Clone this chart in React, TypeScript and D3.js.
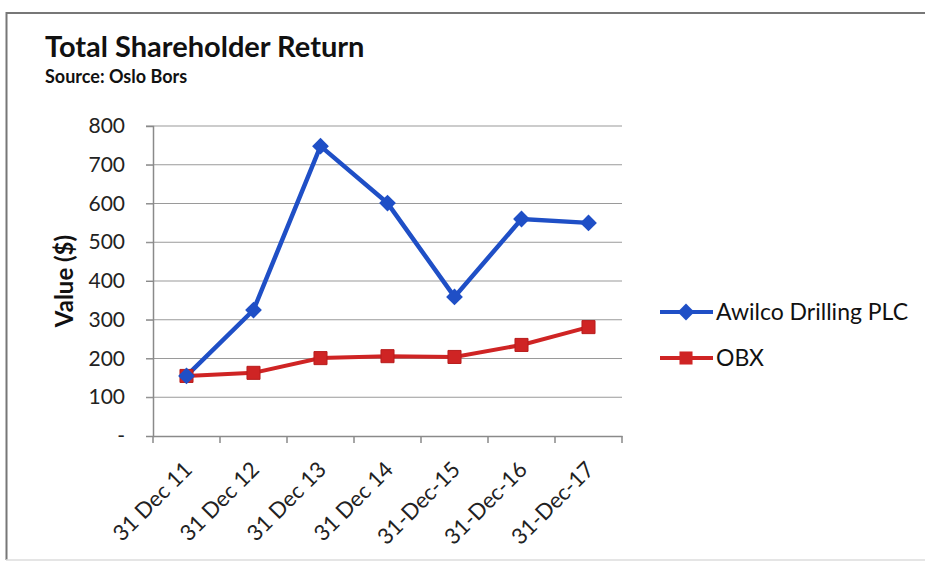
import React, { useEffect, useRef } from "react";
import * as d3 from "d3";

const categories = ["31 Dec 11", "31 Dec 12", "31 Dec 13", "31 Dec 14", "31-Dec-15", "31-Dec-16", "31-Dec-17"];
const awilco = [155, 325, 748, 601, 359, 560, 550];
const obx = [155, 163, 201, 206, 204, 235, 281];
const yTicks = [0, 100, 200, 300, 400, 500, 600, 700, 800];
const seriesNames = ["Awilco Drilling PLC", "OBX"];

const FONT = "Lato, 'Open Sans', sans-serif";

export default function App() {
  const svgRef = useRef<SVGSVGElement | null>(null);

  useEffect(() => {
    const width = 925;
    const height = 562;
    const svg = d3.select(svgRef.current)
      .attr("width", width)
      .attr("height", height);

    // remove old element before rebuild
    svg.selectAll("*").remove();

    svg.append("rect").attr("width", width).attr("height", height).attr("fill", "#fff");

    // outer frame
    svg.append("path")
      .attr("d", `M${width},13 H6.5 V560`)
      .attr("fill", "none")
      .attr("stroke", "#777")
      .attr("stroke-width", 2);
    svg.append("line")
      .attr("x1", 6).attr("x2", width).attr("y1", 560).attr("y2", 560)
      .attr("stroke", "#ddd").attr("stroke-width", 1.5);

    const margin = { left: 153, top: 126, right: 303, bottom: 126 };

    const x = d3.scaleBand()
      .domain(categories)
      .range([margin.left, width - margin.right]);

    const y = d3.scaleLinear()
      .domain([0, 800])
      .range([height - margin.bottom, margin.top]);

    // gridlines
    svg.append("g")
      .selectAll("line")
      .data(yTicks.filter((d) => d > 0))
      .join("line")
      .attr("x1", margin.left - 7)
      .attr("x2", width - margin.right)
      .attr("y1", (d) => y(d))
      .attr("y2", (d) => y(d))
      .attr("stroke", "#9a9a9a")
      .attr("stroke-width", 1.2);

    // y axis
    const yAxis = svg.append("g")
      .attr("transform", `translate(${margin.left},0)`)
      .call(d3.axisLeft(y).tickValues(yTicks).tickSize(7).tickFormat((d) => (d === 0 ? "-" : String(d))));
    yAxis.select(".domain").attr("stroke", "#8a8a8a").attr("stroke-width", 1.5);
    yAxis.selectAll(".tick line").attr("stroke", "#8a8a8a");
    yAxis.selectAll(".tick text")
      .attr("x", -28)
      .attr("font-family", FONT)
      .attr("font-size", 21)
      .attr("fill", "#222");

    // x axis
    const xAxis = svg.append("g")
      .attr("transform", `translate(0,${y(0)})`)
      .call(d3.axisBottom(x).tickSize(0));
    xAxis.select(".domain").attr("stroke", "#8a8a8a").attr("stroke-width", 1.5);
    xAxis.selectAll(".tick text")
      .attr("font-family", FONT)
      .attr("font-size", 22)
      .attr("fill", "#222")
      .attr("text-anchor", "end")
      .attr("dy", null)
      .attr("y", null)
      .attr("transform", "translate(7,35) rotate(-45)");
    // category boundary ticks
    svg.append("g")
      .selectAll("line")
      .data(categories.concat(["end"]))
      .join("line")
      .attr("x1", (d, i) => margin.left + i * x.step())
      .attr("x2", (d, i) => margin.left + i * x.step())
      .attr("y1", y(0))
      .attr("y2", y(0) + 7)
      .attr("stroke", "#8a8a8a")
      .attr("stroke-width", 1.5);

    const cx = (i: number) => (x(categories[i]) as number) + x.bandwidth() / 2;

    const blue = "#1f4fc6";
    const red = "#cf2424";

    const line = d3.line<number>()
      .x((d, i) => cx(i))
      .y((d) => y(d));

    svg.append("path")
      .datum(obx)
      .attr("d", line)
      .attr("fill", "none")
      .attr("stroke", red)
      .attr("stroke-width", 4);
    svg.append("path")
      .datum(awilco)
      .attr("d", line)
      .attr("fill", "none")
      .attr("stroke", blue)
      .attr("stroke-width", 4.5);

    const diamond = d3.symbol().type(d3.symbolDiamond2).size(180);
    const square = d3.symbol().type(d3.symbolSquare).size(170);

    svg.append("g")
      .selectAll("path")
      .data(obx)
      .join("path")
      .attr("d", square)
      .attr("transform", (d, i) => `translate(${cx(i)},${y(d)})`)
      .attr("fill", red)
      .attr("stroke", "#b81c1c")
      .attr("stroke-width", 1);
    svg.append("g")
      .selectAll("path")
      .data(awilco)
      .join("path")
      .attr("d", diamond)
      .attr("transform", (d, i) => `translate(${cx(i)},${y(d)})`)
      .attr("fill", blue);

    // titles
    svg.append("text")
      .attr("x", 45).attr("y", 57)
      .attr("font-family", FONT)
      .attr("font-weight", "bold")
      .attr("font-size", 29)
      .attr("fill", "#111")
      .text("Total Shareholder Return");
    svg.append("text")
      .attr("x", 45).attr("y", 83)
      .attr("font-family", FONT)
      .attr("font-weight", "bold")
      .attr("font-size", 18)
      .attr("fill", "#111")
      .text("Source: Oslo Bors");

    svg.append("text")
      .attr("transform", `translate(73,${(y(0) + y(800)) / 2}) rotate(-90)`)
      .attr("text-anchor", "middle")
      .attr("font-family", FONT)
      .attr("font-weight", "bold")
      .attr("font-size", 24)
      .attr("fill", "#111")
      .text("Value ($)");

    // legend
    const legend = svg.append("g");
    const colors = [blue, red];
    const shapes = [diamond, square];
    seriesNames.forEach((name, i) => {
      const ly = 312 + i * 46;
      legend.append("line")
        .attr("x1", 660).attr("x2", 713).attr("y1", ly).attr("y2", ly)
        .attr("stroke", colors[i]).attr("stroke-width", 4);
      legend.append("path")
        .attr("d", shapes[i])
        .attr("transform", `translate(686,${ly})`)
        .attr("fill", colors[i]);
      legend.append("text")
        .attr("x", 716).attr("y", ly + 8)
        .attr("font-family", FONT)
        .attr("font-size", 23)
        .attr("fill", "#111")
        .text(name);
    });
  }, []);

  return (
    <svg ref={svgRef} style={{ position: "absolute", left: 0, top: 0 }} />
  );
}
